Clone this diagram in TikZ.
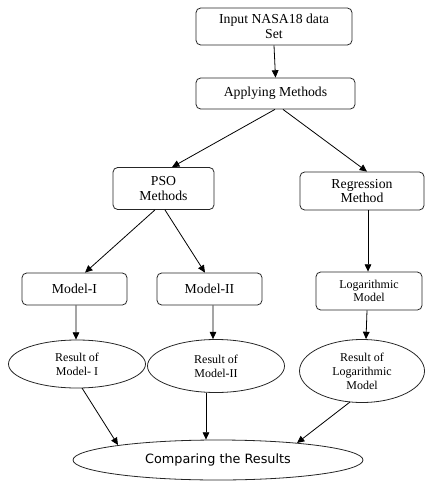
\documentclass[tikz,border=0pt]{standalone}
\usepackage{fontspec}
\setmainfont{Liberation Serif}
\newfontfamily\compfont{DejaVu Sans}
\usetikzlibrary{arrows.meta,shapes.geometric,calc}
\begin{document}
\begin{tikzpicture}[x=0.75pt,y=-0.75pt,
  box/.style={draw=black!85,line width=0.6pt,rounded corners=3.5pt,align=center,inner sep=0pt,
    font=\fontsize{10.3}{11}\selectfont},
  oval/.style={draw=black!85,line width=0.6pt,ellipse,align=center,inner sep=0pt,
    font=\fontsize{9}{10.5}\selectfont},
  arr/.style={line width=0.6pt,-{Triangle[length=5.5pt,width=5pt]}}]
\useasboundingbox (0,0) rectangle (425,481);
% boxes
\node[box,minimum width=117pt,minimum height=27.75pt] (in) at (274,26.5) {Input NASA18 data\\Set};
\node[box,minimum width=119.25pt,minimum height=23.25pt] (app) at (275.5,93.5) {Applying Methods};
\node[box,minimum width=75.75pt,minimum height=31.5pt] (pso) at (163.5,188.5) {PSO\\Methods};
\node[box,minimum width=93pt,minimum height=28.5pt] (reg) at (362,191) {Regression\\Method};
\node[box,minimum width=78.75pt,minimum height=24pt] (m1) at (74.5,289) {Model-I};
\node[box,minimum width=78.75pt,minimum height=24pt] (m2) at (209.5,289) {Model-II};
\node[box,minimum width=79.5pt,minimum height=28.5pt,font=\fontsize{9}{9.5}\selectfont] (log) at (369,291) {Logarithmic\\Model};
% ellipses
\node[oval,minimum width=102.75pt,minimum height=36pt] (e1) at (77,364) {Result of\\Model- I};
\node[oval,minimum width=102.75pt,minimum height=39.75pt] (e2) at (216,366) {Result of\\Model-II};
\node[oval,minimum width=93.75pt,minimum height=47.25pt] (e3) at (362,371) {Result of\\Logarithmic\\Model};
\node[oval,minimum width=217.5pt,minimum height=30pt,font=\compfont\fontsize{9.6}{11}\selectfont] (cmp) at (218,460) {Comparing the Results};
% connectors
\draw[arr] (in.south) -- (app.north);
\draw[arr] ([xshift=-0.4pt]app.south) -- ([xshift=6.4pt]pso.north);
\draw[arr] ([xshift=5.6pt]app.south) -- ([xshift=3.75pt]reg.north);
\draw[arr] ([xshift=-6.4pt]pso.south) -- ([xshift=7.9pt]m1.north);
\draw[arr] ([xshift=1.1pt]pso.south) -- ([xshift=-3.4pt]m2.north);
\draw[arr] ([xshift=4.5pt]reg.south) -- ([xshift=-0.75pt]log.north);
\draw[arr] ([xshift=1.1pt]m1.south) -- ([xshift=-0.75pt]e1.north);
\draw[arr] ([xshift=2.6pt]m2.south) -- ([xshift=-2.25pt]e2.north);
\draw[arr] ([xshift=-1.5pt]log.south) -- ([xshift=3pt]e3.north);
\draw[arr] ($(e1.center)+(5,24)$) -- ($(cmp.center)+(-100,-15)$);
\draw[arr] ([xshift=-7.5pt]e2.south) -- ([xshift=-9pt]cmp.north);
\draw[arr] ($(e3.center)+(-12,31)$) -- ($(cmp.center)+(79,-17)$);
\end{tikzpicture}
\end{document}
